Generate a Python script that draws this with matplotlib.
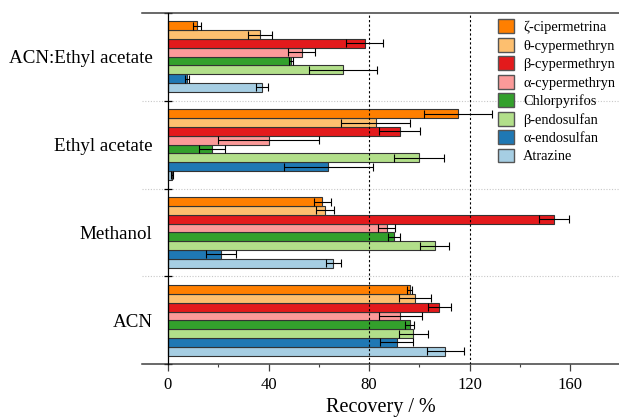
import matplotlib
matplotlib.use('Agg')
import matplotlib.pyplot as plt
import numpy as np
from matplotlib.patches import Patch

plt.rcParams['font.family'] = ['Liberation Serif', 'DejaVu Serif']

groups = ['ACN', 'Methanol', 'Ethyl acetate', 'ACN:Ethyl acetate']
compounds = ['Atrazine', 'α-endosulfan', 'β-endosulfan', 'Chlorpyrifos',
             'α-cypermethryn', 'β-cypermethryn', 'θ-cypermethryn', 'ζ-cipermetrina']
colors = ['#a6cee3', '#1f78b4', '#b2df8a', '#33a02c',
          '#fb9a99', '#e31a1c', '#fdbf6f', '#ff7f00']

# recovery (%) per compound for groups: ACN, Methanol, Ethyl acetate, ACN:Ethyl acetate
atrazine = [110.3, 65.8, 1.7, 37.4]
atrazine_sd = [7.3, 3.1, 0.3, 2.5]
a_endo = [91.0, 21.1, 63.8, 7.6]
a_endo_sd = [6.6, 5.8, 17.8, 0.9]
b_endo = [97.6, 106.0, 99.8, 69.6]
b_endo_sd = [5.6, 5.8, 9.9, 13.4]
chlor = [96.1, 89.8, 17.5, 48.8]
chlor_sd = [1.8, 2.5, 5.3, 0.8]
a_cyp = [92.4, 86.9, 40.0, 53.1]
a_cyp_sd = [8.6, 3.5, 19.9, 5.5]
b_cyp = [107.9, 153.5, 92.1, 78.2]
b_cyp_sd = [4.7, 6.1, 8.1, 7.4]
t_cyp = [98.2, 62.5, 82.6, 36.6]
t_cyp_sd = [6.2, 3.5, 13.8, 4.9]
z_cyp = [96.2, 61.4, 115.4, 11.6]
z_cyp_sd = [1.0, 3.5, 13.5, 1.5]

means = [atrazine, a_endo, b_endo, chlor, a_cyp, b_cyp, t_cyp, z_cyp]
sds = [atrazine_sd, a_endo_sd, b_endo_sd, chlor_sd, a_cyp_sd, b_cyp_sd, t_cyp_sd, z_cyp_sd]

fig = plt.figure(figsize=(6.19, 4.19), dpi=100)
ax = fig.add_axes([142/619, 1-364.3/419, 477/619, 351.6/419])

centers = np.arange(len(groups))
h = 0.1
for i, (m, s, c) in enumerate(zip(means, sds, colors)):
    y = centers - 0.35 + h * i
    ax.barh(y, m, height=h, color=c, edgecolor='#333333', linewidth=0.8,
            xerr=s, capsize=3,
            error_kw=dict(elinewidth=0.8, ecolor='black', capthick=0.8),
            zorder=3)

for ys in [0.5, 1.5, 2.5]:
    ax.axhline(ys, color='#c8c8c8', ls=(0, (1, 1.5)), lw=0.8, zorder=1)
for xv in [80, 120]:
    ax.axvline(xv, color='black', ls=(0, (2, 2)), lw=0.8, zorder=4)

ax.set_xlim(-10.3, 179.3)
ax.set_ylim(-0.5, 3.5)

ax.spines['right'].set_visible(False)
ax.spines['left'].set_position(('data', 0))
ax.spines['left'].set_color('black')
ax.spines['left'].set_linewidth(0.9)
ax.spines['left'].set_zorder(5)
for sp in ['top', 'bottom']:
    ax.spines[sp].set_color('#404040')
    ax.spines[sp].set_linewidth(1.1)

ax.set_xticks([0, 40, 80, 120, 160])
ax.set_xticks([20, 60, 100, 140], minor=True)
ax.tick_params(axis='x', which='major', direction='out', length=5, width=0.9,
               labelsize=12, pad=4, color='#404040')
ax.tick_params(axis='x', which='minor', direction='out', length=2.5, width=0.8,
               color='#404040')

ax.set_yticks(centers)
ax.set_yticklabels(groups)
ax.set_yticks([-0.5, 0.5, 1.5, 2.5, 3.5], minor=True)
ax.tick_params(axis='y', which='major', length=0, labelsize=13.7, pad=11)
ax.tick_params(axis='y', which='minor', direction='inout', length=6, width=0.9)

ax.set_xlabel('Recovery / %', fontsize=14.5, labelpad=4)

handles = [Patch(facecolor=c, edgecolor='#555555', linewidth=1.0, label=l)
           for c, l in zip(colors[::-1], compounds[::-1])]
ax.legend(handles=handles, loc='upper left', bbox_to_anchor=(0.746, 0.981),
          frameon=False, fontsize=10.4, handlelength=1.1, handleheight=1.1,
          handletextpad=0.65, labelspacing=0.25, borderpad=0, borderaxespad=0)

fig.savefig('out.png', dpi=100)
